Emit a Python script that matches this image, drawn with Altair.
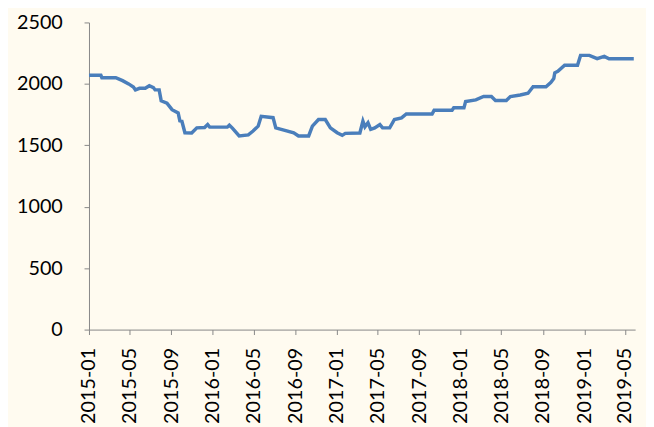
import altair as alt
import pandas as pd

dates = [
    "2015-01-01", "2015-02-05", "2015-02-08", "2015-03-21", "2015-04-10", "2015-04-28",
    "2015-05-12", "2015-05-18", "2015-05-30", "2015-06-16", "2015-06-28", "2015-07-10",
    "2015-07-15", "2015-07-27", "2015-08-02", "2015-08-19", "2015-09-03", "2015-09-21",
    "2015-09-26", "2015-10-02", "2015-10-11", "2015-10-31", "2015-11-15", "2015-12-08",
    "2015-12-17", "2015-12-23", "2016-02-13", "2016-02-19", "2016-02-28", "2016-03-19",
    "2016-04-15", "2016-04-29", "2016-05-14", "2016-05-23", "2016-06-27", "2016-07-05",
    "2016-07-29", "2016-08-27", "2016-09-10", "2016-10-10", "2016-10-21", "2016-11-08",
    "2016-11-28", "2016-12-13", "2017-01-02", "2017-01-17", "2017-01-26", "2017-03-10",
    "2017-03-19", "2017-03-25", "2017-04-03", "2017-04-11", "2017-04-23", "2017-05-08",
    "2017-05-16", "2017-06-06", "2017-06-20", "2017-07-11", "2017-07-25", "2017-10-09",
    "2017-10-15", "2017-12-07", "2017-12-12", "2018-01-11", "2018-01-16", "2018-02-15",
    "2018-03-10", "2018-04-02", "2018-04-14", "2018-05-16", "2018-05-28", "2018-06-26",
    "2018-07-19", "2018-08-03", "2018-09-10", "2018-09-24", "2018-10-03", "2018-10-06",
    "2018-10-15", "2018-11-04", "2018-12-12", "2018-12-21", "2019-01-16", "2019-02-08",
    "2019-03-01", "2019-03-15", "2019-05-27",
]
values = [
    2071, 2071, 2050, 2050, 2026, 2000,
    1975, 1951, 1964, 1964, 1985, 1970,
    1951, 1951, 1862, 1843, 1790, 1763,
    1700, 1696, 1602, 1600, 1642, 1645,
    1669, 1648, 1648, 1664, 1640, 1576,
    1585, 1616, 1656, 1736, 1725, 1642,
    1624, 1602, 1576, 1576, 1656, 1710,
    1710, 1642, 1602, 1581, 1597, 1600,
    1696, 1650, 1683, 1630, 1642, 1669,
    1642, 1642, 1710, 1723, 1755, 1755,
    1785, 1785, 1805, 1805, 1857, 1870,
    1897, 1897, 1865, 1865, 1897, 1910,
    1924, 1977, 1977, 2010, 2044, 2090,
    2103, 2152, 2152, 2232, 2232, 2205,
    2224, 2205, 2205,
]
tick_months = [(2015, 1), (2015, 5), (2015, 9), (2016, 1), (2016, 5), (2016, 9),
               (2017, 1), (2017, 5), (2017, 9), (2018, 1), (2018, 5), (2018, 9),
               (2019, 1), (2019, 5)]
y_ticks = [0, 500, 1000, 1500, 2000, 2500]

df = pd.DataFrame({"date": dates, "value": values})

BG = "#FFFBF0"
AX = "#868686"
FONT = "Lato"

x_enc = alt.X(
    "date:T",
    scale=alt.Scale(
        type="utc",
        domain=[alt.DateTime(year=2015, month=1, date=1, utc=True),
                alt.DateTime(year=2019, month=5, date=31, utc=True)],
    ),
    axis=alt.Axis(
        title=None,
        values=[alt.DateTime(year=y, month=m, date=1, utc=True) for y, m in tick_months],
        labelExpr="utcFormat(datum.value, '%Y-%m')",
        labelAngle=-90,
        labelAlign="right",
        labelBaseline="middle",
        labelPadding=13,
        tickSize=5,
        labelFontSize=20,
        labelFont=FONT,
        labelColor="#000000",
        domainColor=AX,
        tickColor=AX,
        grid=False,
        labelOverlap=False,
        labelBound=False,
        labelFlush=False,
    ),
)
y_enc = alt.Y(
    "value:Q",
    scale=alt.Scale(domain=[0, 2500], nice=False, zero=True),
    axis=alt.Axis(
        title=None,
        values=y_ticks,
        format="d",
        tickSize=5,
        labelPadding=22,
        labelFontSize=20,
        labelFont=FONT,
        labelColor="#000000",
        domainColor=AX,
        tickColor=AX,
        grid=False,
    ),
)

chart = (
    alt.Chart(df)
    .mark_line(color="#4A7EBB", strokeWidth=3.5, interpolate="linear")
    .encode(x=x_enc, y=y_enc)
    .properties(
        width=553,
        height=311,
        background=BG,
        padding={"left": 82, "top": 12, "right": 11, "bottom": 96},
        autosize=alt.AutoSizeParams(type="none"),
    )
    .configure_view(stroke=None)
)

chart.save("out.html", embed_options={"renderer": "svg", "actions": False})
